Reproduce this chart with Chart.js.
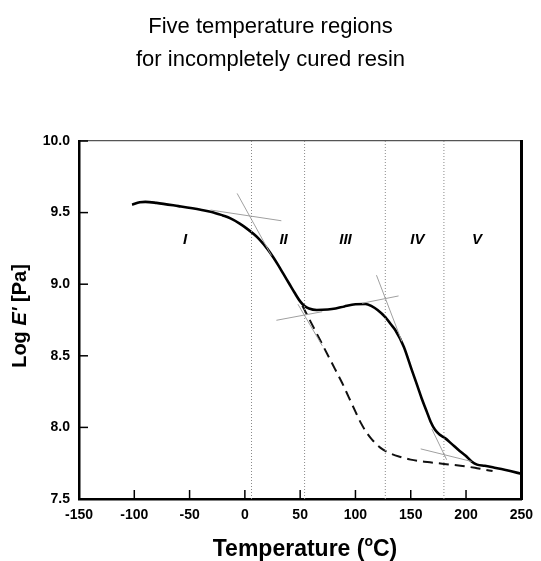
<!DOCTYPE html>
<html>
<head>
<meta charset="utf-8">
<script src="https://cdn.jsdelivr.net/npm/chart.js@4.4.1/dist/chart.umd.min.js"></script>
<style>
  html, body { margin: 0; padding: 0; background: #fff; }
  #wrap { width: 541px; height: 561px; }
</style>
</head>
<body>
<div id="wrap"><canvas id="modulusChart"></canvas></div>
<script>
// solid curve: incompletely cured resin
const solidTemp = [-102, -95, -90, -80, -60, -40, -30, -20, -13, -5, 1.5, 8, 13.5, 20, 25.5, 30, 35, 40, 45, 50, 54, 58, 65, 75, 82, 90, 100, 109, 115, 120, 127, 132, 136, 143.7, 151, 156, 160, 164, 168, 172, 176, 181, 187, 193, 200, 205, 210, 217, 225, 232, 240, 250];
const solidLogE = [9.555, 9.572, 9.575, 9.568, 9.545, 9.52, 9.505, 9.48, 9.46, 9.425, 9.39, 9.35, 9.31, 9.25, 9.19, 9.135, 9.07, 9.005, 8.94, 8.88, 8.847, 8.83, 8.82, 8.823, 8.83, 8.845, 8.86, 8.862, 8.845, 8.82, 8.77, 8.72, 8.68, 8.564, 8.40, 8.29, 8.2, 8.12, 8.04, 7.983, 7.95, 7.925, 7.885, 7.844, 7.80, 7.762, 7.74, 7.732, 7.72, 7.709, 7.695, 7.676];

// dashed curve
const dashedTemp = [52, 56, 60, 65, 70, 76, 82, 88, 94, 100, 105, 110, 115, 120, 125, 130, 140, 150, 165, 180, 195, 208, 215, 224];
const dashedLogE = [8.85, 8.79, 8.73, 8.655, 8.58, 8.49, 8.40, 8.31, 8.21, 8.11, 8.03, 7.965, 7.915, 7.875, 7.845, 7.823, 7.795, 7.775, 7.758, 7.745, 7.732, 7.718, 7.708, 7.695];

// region boundaries and labels
const boundaryTemp = [6, 54, 127, 180];
const regionNames = ['I', 'II', 'III', 'IV', 'V'];
const regionTemp = [-54, 35, 91, 156, 210];
const regionLogE = 9.31;

// tangent construction lines: [t1, e1, t2, e2]
const tangents = [
  [-31, 9.518, 33, 9.443],
  [-7, 9.634, 24, 9.20],
  [28.5, 8.748, 70, 8.808],
  [48, 8.86, 70, 8.57],
  [106, 8.867, 139, 8.918],
  [119, 9.063, 142, 8.60],
  [159, 7.85, 205, 7.762],
  [169, 7.99, 182.5, 7.774]
];

const xTicks = [-150, -100, -50, 0, 50, 100, 150, 200, 250];
const yTicks = [7.5, 8.0, 8.5, 9.0, 9.5, 10.0];

const FONT = "'Liberation Sans', Arial, sans-serif";

const pts = (xs, ys) => xs.map((x, i) => ({x: x, y: ys[i]}));

const datasets = [];
boundaryTemp.forEach(t => {
  datasets.push({
    data: [{x: t, y: 7.5}, {x: t, y: 10}],
    borderColor: '#8a8a8a', borderWidth: 1, borderDash: [1, 2],
    pointRadius: 0, showLine: true
  });
});
tangents.forEach(l => {
  datasets.push({
    data: [{x: l[0], y: l[1]}, {x: l[2], y: l[3]}],
    borderColor: '#a0a0a0', borderWidth: 1,
    pointRadius: 0, showLine: true
  });
});
datasets.push({
  data: pts(dashedTemp, dashedLogE),
  borderColor: '#111', borderWidth: 2, borderDash: [10, 6],
  pointRadius: 0, showLine: true, cubicInterpolationMode: 'monotone'
});
datasets.push({
  data: pts(solidTemp, solidLogE),
  borderColor: '#000', borderWidth: 2.6,
  pointRadius: 0, showLine: true, cubicInterpolationMode: 'monotone'
});

// draws a run of differently styled pieces centred on (0, 0)
function drawPieces(ctx, parts) {
  let total = 0;
  parts.forEach(p => { ctx.font = p[1] + FONT; total += ctx.measureText(p[0]).width; });
  let pos = -total / 2;
  parts.forEach(p => {
    ctx.font = p[1] + FONT;
    ctx.fillText(p[0], pos, p[2] || 0);
    pos += ctx.measureText(p[0]).width;
  });
}

// inward ticks, region labels, axis titles
const extras = {
  id: 'extras',
  afterDatasetsDraw(chart) {
    const {ctx, chartArea: a, scales: {x, y}} = chart;
    ctx.save();
    ctx.strokeStyle = '#000';
    ctx.lineWidth = 1.5;
    xTicks.forEach(t => {
      const px = x.getPixelForValue(t);
      ctx.beginPath(); ctx.moveTo(px, a.bottom); ctx.lineTo(px, a.bottom - 9); ctx.stroke();
    });
    yTicks.forEach(v => {
      const py = y.getPixelForValue(v);
      ctx.beginPath(); ctx.moveTo(a.left, py); ctx.lineTo(a.left + 9, py); ctx.stroke();
    });

    ctx.fillStyle = '#000';
    ctx.font = 'italic bold 15px ' + FONT;
    ctx.textAlign = 'center';
    ctx.textBaseline = 'middle';
    regionNames.forEach((n, i) => {
      ctx.fillText(n, x.getPixelForValue(regionTemp[i]), y.getPixelForValue(regionLogE));
    });

    ctx.textAlign = 'left';
    ctx.save();
    ctx.translate(305, 550);
    drawPieces(ctx, [['Temperature (', 'bold 23px '], ['o', 'bold 14px ', -8], ['C)', 'bold 23px ']]);
    ctx.restore();

    ctx.translate(20, 316);
    ctx.rotate(-Math.PI / 2);
    drawPieces(ctx, [['Log ', 'bold 20px '], ["E'", 'italic bold 20px '], [' [Pa]', 'bold 20px ']]);
    ctx.restore();
  }
};

new Chart(document.getElementById('modulusChart'), {
  type: 'scatter',
  data: {datasets: datasets},
  plugins: [extras],
  options: {
    responsive: true,
    maintainAspectRatio: false,
    animation: false,
    layout: {padding: 0},
    plugins: {
      legend: {display: false},
      tooltip: {enabled: false},
      title: {
        display: true,
        text: ['Five temperature regions', 'for incompletely cured resin'],
        color: '#000',
        font: {family: FONT, size: 22, weight: 'normal', lineHeight: 1.5},
        padding: {top: 10, bottom: 65}
      }
    },
    scales: {
      x: {
        type: 'linear', position: 'bottom',
        min: -150, max: 250,
        afterBuildTicks: s => { s.ticks = xTicks.map(v => ({value: v})); },
        afterFit: s => { s.height = 62; },
        grid: {display: false, drawTicks: false},
        border: {display: true, color: '#000', width: 2.5},
        ticks: {color: '#000', padding: 8, font: {family: FONT, size: 14, weight: 'bold'}}
      },
      xTop: {
        type: 'linear', position: 'top',
        min: -150, max: 250,
        afterFit: s => { s.height = 0; },
        grid: {display: false, drawTicks: false},
        ticks: {display: false},
        border: {display: true, color: '#555', width: 1.2}
      },
      y: {
        type: 'linear', position: 'left',
        min: 7.5, max: 10,
        afterBuildTicks: s => { s.ticks = yTicks.map(v => ({value: v})); },
        afterFit: s => { s.width = 79; },
        grid: {display: false, drawTicks: false},
        border: {display: true, color: '#000', width: 2.5},
        ticks: {
          color: '#000', padding: 9,
          font: {family: FONT, size: 14, weight: 'bold'},
          callback: v => Number(v).toFixed(1)
        }
      },
      yRight: {
        type: 'linear', position: 'right',
        min: 7.5, max: 10,
        afterFit: s => { s.width = 14; },
        grid: {display: false, drawTicks: false},
        ticks: {display: false},
        border: {display: true, color: '#000', width: 3}
      }
    }
  }
});
</script>
</body>
</html>
